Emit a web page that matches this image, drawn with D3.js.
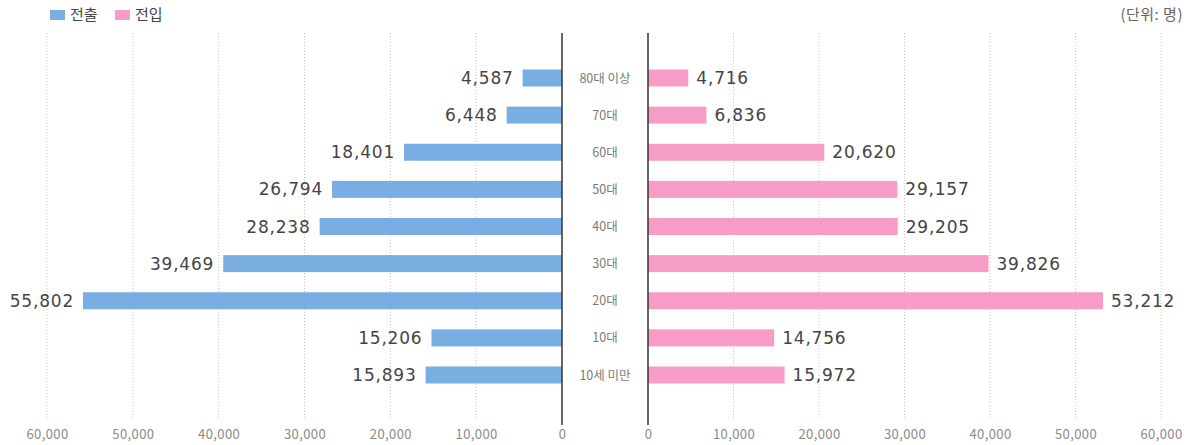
<!DOCTYPE html>
<html><head><meta charset="utf-8">
<script src="https://cdn.jsdelivr.net/npm/d3@7"></script>
<style>body{margin:0;background:#fff;} svg{display:block;}</style>
</head><body>
<svg id="c" width="1189" height="445"></svg>
<script>
const categories = ["80대 이상","70대","60대","50대","40대","30대","20대","10대","10세 미만"];
const outflow = [4587,6448,18401,26794,28238,39469,55802,15206,15893];
const inflow = [4716,6836,20620,29157,29205,39826,53212,14756,15972];
const ticks = [0,10000,20000,30000,40000,50000,60000];
const seriesNames = ["전출","전입"];
const unitLabel = "(단위: 명)";

const svg = d3.select("#c");
const font = "'Noto Sans CJK KR','Liberation Sans',sans-serif";
const vfont = "'DejaVu Sans','Liberation Sans',sans-serif";
const blue = "#78aee2", pink = "#f79bc7";
const xL = d3.scaleLinear().domain([0,60000]).range([562,47]);
const xR = d3.scaleLinear().domain([0,60000]).range([648,1161]);
const y = d3.scalePoint().domain(categories).range([78,375]);
const barH = 17, gTop = 33, gBot = 418;
const fmt = d3.format(",");

// grid
ticks.filter(t=>t>0).forEach(t=>{
  [xL,xR].forEach(s=>{
    svg.append("line").attr("x1",s(t)).attr("x2",s(t)).attr("y1",gTop).attr("y2",gBot)
      .attr("stroke","#c4c4c4").attr("stroke-width",1).attr("stroke-dasharray","1,2");
  });
});
// axes labels
const axL = svg.append("g").attr("transform","translate(0,"+(gBot+1)+")")
  .call(d3.axisBottom(xL).tickValues(ticks).tickFormat(fmt).tickSize(0).tickPadding(11));
const axR = svg.append("g").attr("transform","translate(0,"+(gBot+1)+")")
  .call(d3.axisBottom(xR).tickValues(ticks).tickFormat(fmt).tickSize(0).tickPadding(11));
[axL,axR].forEach(a=>{
  a.select(".domain").remove();
  a.selectAll("text").attr("font-family",font).attr("font-size",13).attr("letter-spacing","0.4").attr("fill","#8a8a8a");
});
// bars
svg.selectAll(".bl").data(categories).join("rect")
  .attr("x",(d,i)=>xL(outflow[i])).attr("width",(d,i)=>xL(0)-xL(outflow[i]))
  .attr("y",d=>y(d)-barH/2).attr("height",barH).attr("fill",blue);
svg.selectAll(".br").data(categories).join("rect")
  .attr("x",xR(0)).attr("width",(d,i)=>xR(inflow[i])-xR(0))
  .attr("y",d=>y(d)-barH/2).attr("height",barH).attr("fill",pink);
// zero lines
[xL(0),xR(0)].forEach(x=>{
  svg.append("line").attr("x1",x).attr("x2",x).attr("y1",gTop).attr("y2",425)
    .attr("stroke","#333").attr("stroke-width",1.5);
});
// value labels
svg.selectAll(".vl").data(categories).join("text")
  .attr("x",(d,i)=>xL(outflow[i])-9).attr("y",d=>y(d)).attr("dy","0.36em")
  .attr("text-anchor","end").attr("font-family",vfont)
  .attr("font-size",17).attr("letter-spacing","0.8").attr("fill","#444").text((d,i)=>fmt(outflow[i]));
svg.selectAll(".vr").data(categories).join("text")
  .attr("x",(d,i)=>xR(inflow[i])+8).attr("y",d=>y(d)).attr("dy","0.36em")
  .attr("text-anchor","start").attr("font-family",vfont)
  .attr("font-size",17).attr("letter-spacing","0.8").attr("fill","#444").text((d,i)=>fmt(inflow[i]));
// category labels
svg.selectAll(".cl").data(categories).join("text")
  .attr("x",(xL(0)+xR(0))/2).attr("y",d=>y(d)).attr("dy","0.36em")
  .attr("text-anchor","middle").attr("font-family",font).attr("font-size",12.5)
  .attr("fill","#7a7a7a").text(d=>d);
// legend
const lg = [[50,blue,seriesNames[0]],[115,pink,seriesNames[1]]];
lg.forEach(([x,c,t])=>{
  svg.append("rect").attr("x",x).attr("y",10).attr("width",15).attr("height",10).attr("fill",c);
  svg.append("text").attr("x",x+20).attr("y",15).attr("dy","0.36em").attr("font-family",font)
    .attr("font-size",15).attr("fill","#444").text(t);
});
svg.append("text").attr("x",1183).attr("y",15).attr("dy","0.36em").attr("text-anchor","end")
  .attr("font-family",font).attr("font-size",15).attr("letter-spacing","0.5").attr("fill","#666").text(unitLabel);
</script>
</body></html>
